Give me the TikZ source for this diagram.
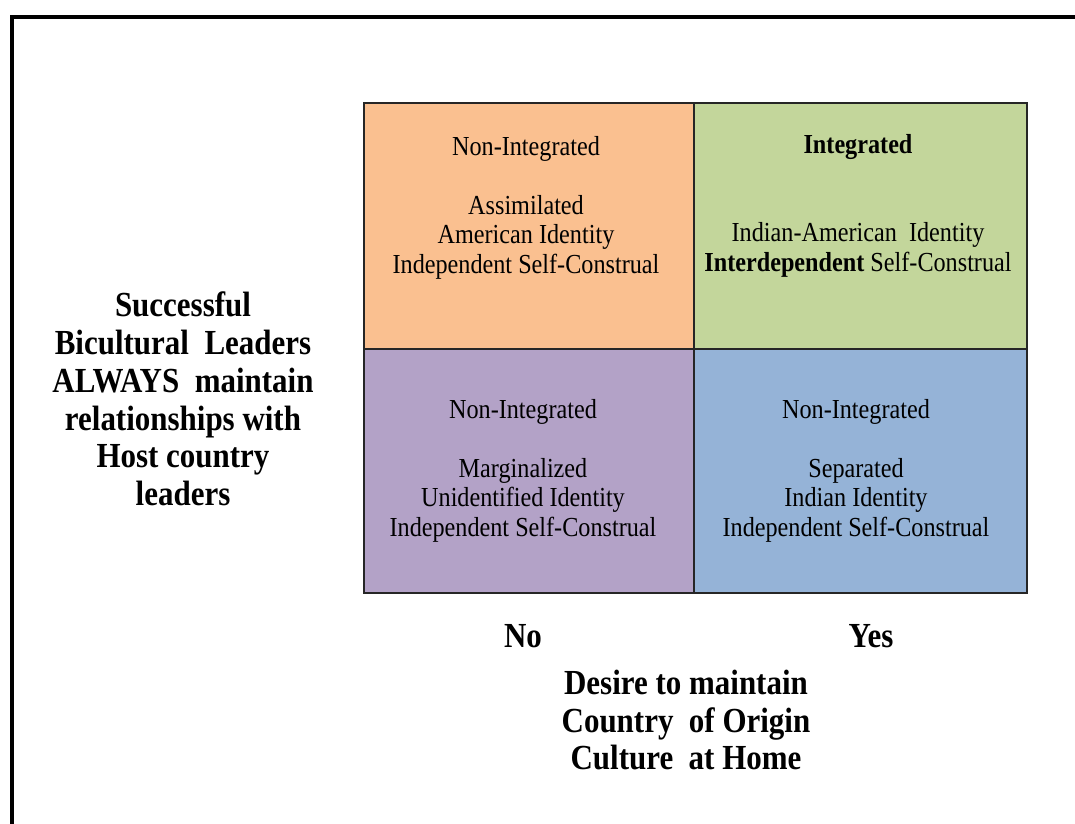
\documentclass[tikz,border=0pt]{standalone}
\usepackage{fontspec}
\setmainfont{Liberation Serif}[FakeStretch=0.88]
\definecolor{quadorange}{HTML}{FAC090}
\definecolor{quadgreen}{HTML}{C3D69B}
\definecolor{quadpurple}{HTML}{B3A2C7}
\definecolor{quadblue}{HTML}{95B3D7}

\begin{document}
\begin{tikzpicture}[x=1pt,y=-1pt]
  \tikzset{quad/.style = {shape=rectangle,draw=black!85,line width=1.5pt,inner sep=0pt,minimum width=330pt}}
  \tikzset{celltext/.style = {align=center,inner sep=0pt,font=\fontsize{27.5}{29.5}\selectfont}}
  \tikzset{axislabel/.style = {align=center,inner sep=0pt,font=\bfseries\fontsize{35.2}{37.8}\selectfont}}

  \useasboundingbox (0,0) rectangle (1075,823);
  \draw[line width=4pt] (12,850) -- (12,17) -- (1100,17);

	\node[quad,fill=quadorange,minimum height=246pt] (assim) at (529,226) {};
	\node[quad,fill=quadgreen,minimum height=246pt,minimum width=333pt] (integ) at (860.5,226) {};
	\node[quad,fill=quadpurple,minimum height=244pt] (margin) at (529,471) {};
	\node[quad,fill=quadblue,minimum height=244pt,minimum width=333pt] (separ) at (860.5,471) {};

	\node[celltext] (assimtxt) at (526,207.5) {Non-Integrated\\[29.5pt]Assimilated\\American Identity\\Independent Self-Construal};
	\node[celltext] (integtxt) at (858,205.5) {\textbf{Integrated}\\[59pt]Indian-American\ \ Identity\\\textbf{Interdependent} Self-Construal};
	\node[celltext] (margintxt) at (523,470.5) {Non-Integrated\\[29.5pt]Marginalized\\Unidentified Identity\\Independent Self-Construal};
	\node[celltext] (separtxt) at (856,470.5) {Non-Integrated\\[29.5pt]Separated\\Indian Identity\\Independent Self-Construal};

	\node[axislabel] (leaders) at (183,399) {Successful\\Bicultural\ \ Leaders\\ALWAYS\ \ maintain\\relationships with\\Host country\\leaders};
	\node[axislabel] (no) at (523,636) {No};
	\node[axislabel] (yes) at (871,636) {Yes};
	\node[axislabel] (desire) at (686,720) {Desire to maintain\\Country\ \ of Origin\\Culture\ \ at Home};
\end{tikzpicture}
\end{document}
